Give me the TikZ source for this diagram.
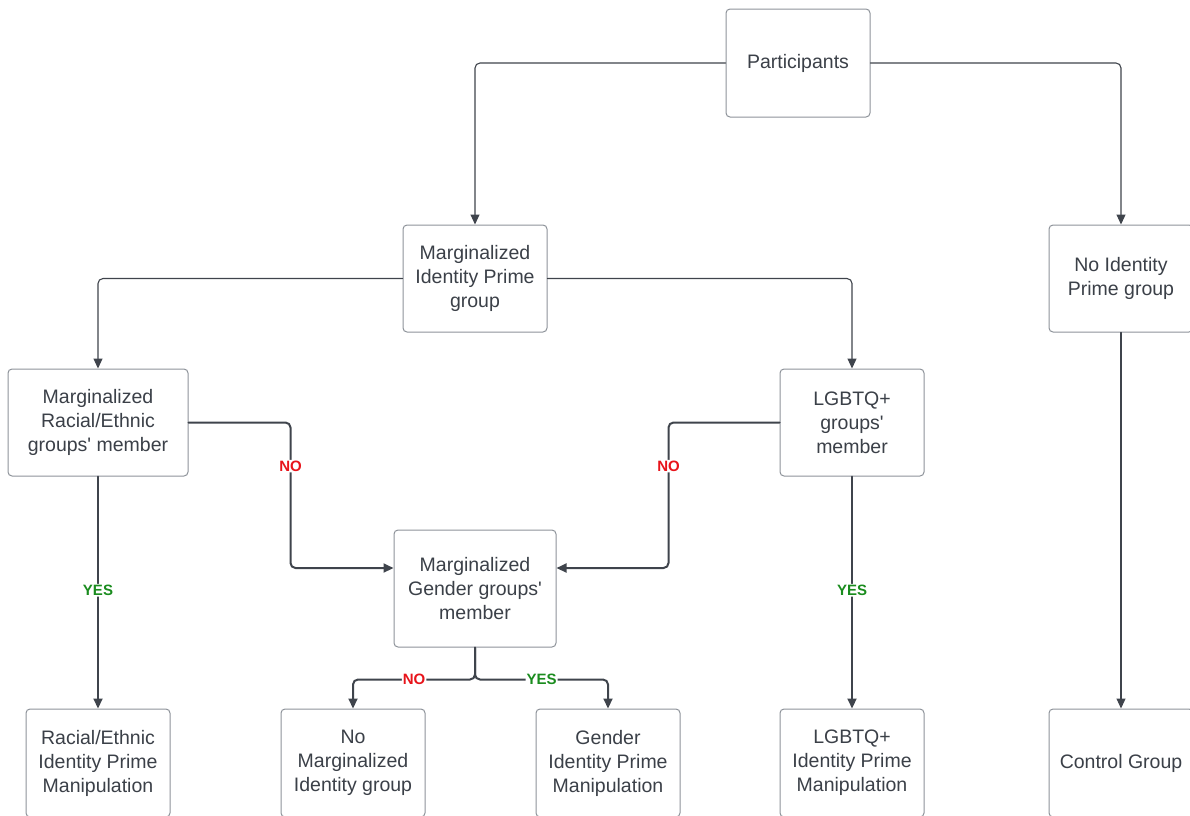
\documentclass[tikz,border=0pt]{standalone}
\usepackage{fontspec}
\setmainfont{Liberation Sans}
\usepackage{xcolor}
\usetikzlibrary{positioning,calc,arrows.meta}

\definecolor{txtgray}{HTML}{3B4048}
\definecolor{boxgray}{HTML}{8E939A}
\definecolor{linegray}{HTML}{3F444C}
\definecolor{nored}{HTML}{E8141B}
\definecolor{yesgreen}{HTML}{1A8C1E}

\begin{document}
\begin{tikzpicture}[
					x=1pt,y=-1pt,
					>={Triangle[length=10pt,width=9pt]},
					line cap=round,line join=round,
					font=\fontsize{19.5}{24}\selectfont,
					box/.style={draw=boxgray, line width=1pt, rounded corners=4pt, fill=white,
						text=txtgray, align=center, inner sep=0pt,
						minimum width=144pt, minimum height=108pt},
					link/.style={->, draw=linegray, line width=1.1pt, rounded corners=5pt},
					flow/.style={->, draw=linegray, line width=2pt, rounded corners=5pt},
					no/.style={fill=white, text=nored, inner sep=1pt, font=\fontsize{15}{15}\selectfont\bfseries},
					yes/.style={fill=white, text=yesgreen, inner sep=1pt, font=\fontsize{15}{15}\selectfont\bfseries}
					]
					%----- frame (pixel units, y downwards)
					\useasboundingbox (0,0) rectangle (1190,815);
					\clip (0,0) rectangle (1190,815);
					
					%----- top levels
					\node[box] (part) at (798,63) {Participants};
					\node[box, minimum height=107pt] (mip) at (475,278.5) {Marginalized\\Identity Prime\\group};
					\node[box, minimum height=107pt] (nip) at (1121,278.5) {No Identity\\Prime group};
					
					%----- membership checks
					\node[box, minimum width=180pt, minimum height=107pt] (race) at (98,422.5) {Marginalized\\Racial/Ethnic\\groups\textquotesingle{} member};
					\node[box, minimum height=107pt] (lgbt) at (852,422.5) {LGBTQ+\\groups\textquotesingle\\member};
					\node[box, minimum width=162pt, minimum height=117pt] (gender) at (475,588.5) {Marginalized\\Gender groups\textquotesingle\\member};
					
					%----- outcome groups (cut by the frame)
					\node[box] (raceM) at (98,763) {Racial/Ethnic\\Identity Prime\\Manipulation};
					\node[box] (noMI) at (353,763) {No\\Marginalized\\Identity group};
					\node[box] (genderM) at (608,763) {Gender\\Identity Prime\\Manipulation};
					\node[box] (lgbtM) at (852,763) {LGBTQ+\\Identity Prime\\Manipulation};
					\node[box] (ctrl) at (1121,763) {Control Group};
					
					% entry points on the gender box
					\coordinate (gInL) at ($(gender.west)+(0,-20.5)$);
					\coordinate (gInR) at ($(gender.east)+(0,-20.5)$);
					
					%----- thin links
					\draw[link] (part.west) -| (mip.north);
					\draw[link] (part.east) -| (nip.north);
					\draw[link] (mip.west) -| (race.north);
					\draw[link] (mip.east) -| (lgbt.north);
					\draw[link] (nip.south) -- (ctrl.north);
					
					%----- NO branches into gender
					\draw[flow] (race.east) -| node[no, pos=0.65] {NO} ([xshift=-103pt]gInL) -- (gInL);
					\draw[flow] (lgbt.west) -| node[no, pos=0.65] {NO} ([xshift=112pt]gInR) -- (gInR);
					
					%----- YES branches
					\draw[flow] (race.south) -- node[yes, pos=0.49] {YES} (raceM.north);
					\draw[flow] (lgbt.south) -- node[yes, pos=0.49] {YES} (lgbtM.north);
					
					%----- gender split
					\draw[flow] (gender.south) -- ++(0,32) -| node[no, pos=0.25] {NO} (noMI.north);
					\draw[flow] (gender.south) -- ++(0,32) -| node[yes, pos=0.25] {YES} (genderM.north);
					
				\end{tikzpicture}
\end{document}
